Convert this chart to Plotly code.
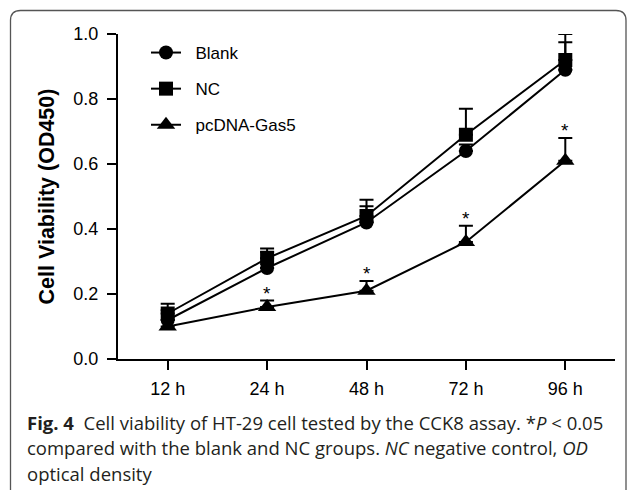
import plotly.graph_objects as go

categories = ["12 h", "24 h", "48 h", "72 h", "96 h"]
blank = [0.12, 0.28, 0.42, 0.64, 0.89]
blank_err = [0.03, 0.05, 0.05, 0.02, 0.085]
nc = [0.14, 0.31, 0.44, 0.69, 0.92]
nc_err = [0.03, 0.03, 0.05, 0.08, 0.08]
pcdna = [0.10, 0.16, 0.21, 0.36, 0.61]
pcdna_err = [0.0, 0.02, 0.03, 0.05, 0.07]
star_pts = ["24 h", "48 h", "72 h", "96 h"]

W, H = 627, 490
L, R, T, B = 118, 12, 34, 131
pw, ph = W - L - R, H - T - B


def px(x):
    return (x - L) / pw


def py(y):
    return (H - B - y) / ph


NB = "\u00a0"
fig = go.Figure()
series = [
    ("Blank", blank, blank_err, "circle", 14),
    ("NC", nc, nc_err, "square", 14),
    ("pcDNA-Gas5", pcdna, pcdna_err, "triangle-up", 16),
]
for name, vals, err, sym, sz in series:
    fig.add_trace(go.Scatter(
        x=categories, y=vals, name=NB * 2 + name, mode="lines+markers",
        legendgroup=name,
        line=dict(color="black", width=2),
        marker=dict(symbol=sym, size=sz, color="black"),
        error_y=dict(type="data", symmetric=False, array=err,
                     arrayminus=[0] * len(err), color="black",
                     thickness=2, width=7),
    ))

# significance stars
for c in star_pts:
    i = categories.index(c)
    fig.add_annotation(x=c, y=pcdna[i] + pcdna_err[i], text="*",
                       showarrow=False, yanchor="bottom", yshift=-5,
                       font=dict(family="Liberation Sans", size=19, color="black"))

# caption
cap_font = dict(family="Open Sans", size=18.5, color="#231f20")
lines = [
    "<b>Fig. 4</b>  Cell viability of HT-29 cell tested by the CCK8 assay. *<i>P</i> &lt; 0.05",
    "compared with the blank and NC groups. <i>NC</i> negative control, <i>OD</i>",
    "optical density",
]
for k, t in enumerate(lines):
    fig.add_annotation(xref="paper", yref="paper", x=px(25), y=py(422 + 25.5 * k),
                       text=t, showarrow=False, xanchor="left", yanchor="middle",
                       font=cap_font, align="left")

# rounded border
r = 10
x0, y0, x1, y1 = 10.5, 10.5, 626, 520
path = (f"M {px(x0)},{py(y0 + r)} Q {px(x0)},{py(y0)} {px(x0 + r)},{py(y0)} "
        f"L {px(x1 - r)},{py(y0)} Q {px(x1)},{py(y0)} {px(x1)},{py(y0 + r)} "
        f"L {px(x1)},{py(y1)} L {px(x0)},{py(y1)} Z")
fig.add_shape(type="path", xref="paper", yref="paper", path=path,
              line=dict(color="#555555", width=1.3), layer="below")

tick_font = dict(family="Liberation Sans", size=18, color="black")
fig.update_layout(
    width=W, height=H,
    margin=dict(l=L, r=R, t=T, b=B),
    paper_bgcolor="white", plot_bgcolor="white",
    showlegend=True,
    legend=dict(x=px(146), y=py(35), xanchor="left", yanchor="top",
                font=dict(family="Liberation Sans", size=17, color="black"),
                bgcolor="rgba(0,0,0,0)", tracegroupgap=11, itemwidth=30),
    xaxis=dict(range=[-0.5, 4.5], showline=True, linecolor="black", linewidth=2,
               ticks="outside", ticklen=9, tickwidth=2, tickcolor="black",
               ticklabelstandoff=3,
               tickfont=tick_font, showgrid=False, zeroline=False),
    yaxis=dict(range=[0, 1.0], showline=True, linecolor="black", linewidth=2,
               ticks="outside", ticklen=9, tickwidth=2, tickcolor="black",
               ticklabelstandoff=5,
               tickvals=[0, 0.2, 0.4, 0.6, 0.8, 1.0], tickformat=".1f",
               tickfont=tick_font, showgrid=False, zeroline=False,
               title=dict(text="<b>Cell Viability (OD450)</b>", standoff=13,
                          font=dict(family="Liberation Sans", size=21.5, color="black"))),
)

fig.write_html("out.html", config={"displayModeBar": False},
               post_script="document.body.style.margin='0';document.body.style.overflow='hidden';")
